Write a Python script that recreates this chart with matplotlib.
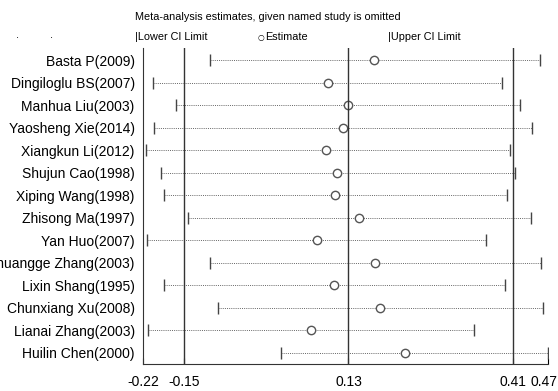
import matplotlib.pyplot as plt
import matplotlib.transforms as mtransforms
plt.switch_backend('agg')
plt.rcParams['font.family'] = ['Liberation Sans', 'DejaVu Sans']

# Sensitivity analysis: estimates when each named study is omitted
studies = ['Basta P(2009)', 'Dingiloglu BS(2007)', 'Manhua Liu(2003)', 'Yaosheng Xie(2014)',
           'Xiangkun Li(2012)', 'Shujun Cao(1998)', 'Xiping Wang(1998)', 'Zhisong Ma(1997)',
           'Yan Huo(2007)', 'Shuangge Zhang(2003)', 'Lixin Shang(1995)', 'Chunxiang Xu(2008)',
           'Lianai Zhang(2003)', 'Huilin Chen(2000)']
estimate = [0.174, 0.095, 0.130, 0.120, 0.092, 0.111, 0.107, 0.148,
            0.076, 0.175, 0.105, 0.183, 0.066, 0.226]
lower = [-0.106, -0.203, -0.164, -0.201, -0.215, -0.189, -0.185, -0.144,
         -0.213, -0.106, -0.184, -0.093, -0.212, 0.015]
upper = [0.456, 0.391, 0.423, 0.442, 0.406, 0.414, 0.400, 0.441,
         0.364, 0.458, 0.397, 0.462, 0.344, 0.470]
ref_lines = [-0.15, 0.13, 0.41]
xticks = [-0.22, -0.15, 0.13, 0.41, 0.47]

fig = plt.figure(figsize=(5.58, 3.91), dpi=100)
ax = fig.add_axes([0.2563, 0.069, 0.7258, 0.808])

rows = list(range(len(studies)))
for i in rows:
    ax.plot([lower[i], upper[i]], [i, i], linestyle=(0, (1, 1.2)), color='#666666', lw=0.7)
ax.plot(lower, rows, linestyle='none', marker='|', markersize=8, color='#444444', mew=1)
ax.plot(upper, rows, linestyle='none', marker='|', markersize=8, color='#444444', mew=1)
ax.plot(estimate, rows, linestyle='none', marker='o', markersize=6,
        markerfacecolor='white', markeredgecolor='#555555', mew=1)

for v in ref_lines:
    ax.axvline(v, color='#333333', lw=1)

ax.set_xlim(-0.22, 0.47)
ax.set_ylim(13.49, -0.53)
ax.set_xticks(xticks)
ax.set_xticklabels([f'{t:.2f}' for t in xticks])
ax.set_yticks(rows)
ax.set_yticklabels(studies)
ax.tick_params(axis='y', length=0, pad=6, labelsize=10)
ax.tick_params(axis='x', length=4, direction='in', pad=8, labelsize=10)
# nudge the last tick label a little left so it stays inside the picture
last = ax.get_xticklabels()[-1]
last.set_transform(last.get_transform() +
                   mtransforms.ScaledTranslation(-3 / 72, 0, fig.dpi_scale_trans))
ax.spines['top'].set_visible(False)
ax.spines['right'].set_visible(False)
for s in ['left', 'bottom']:
    ax.spines[s].set_color('#333333')

fig.text(0.48, 0.956, 'Meta-analysis estimates, given named study is omitted',
         ha='center', va='center', fontsize=7.8)
fig.text(0.242, 0.905, '|Lower CI Limit', ha='left', va='center', fontsize=7.8)
fig.text(0.462, 0.905, '\u25cb', ha='left', va='center', fontsize=5.5, family='DejaVu Sans')
fig.text(0.475, 0.905, 'Estimate', ha='left', va='center', fontsize=7.8)
fig.text(0.695, 0.905, '|Upper CI Limit', ha='left', va='center', fontsize=7.8)
fig.text(0.032, 0.91, '.', ha='center', va='center', fontsize=8)
fig.text(0.093, 0.91, '.', ha='center', va='center', fontsize=8)

fig.savefig('out.png', dpi=100)
